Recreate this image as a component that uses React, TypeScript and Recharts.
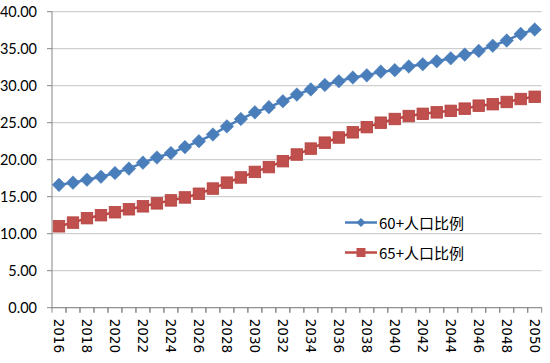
import React from 'react';
import { LineChart, Line, XAxis, YAxis, CartesianGrid } from 'recharts';

const years = [
  '2016', '2017', '2018', '2019', '2020', '2021', '2022', '2023', '2024', '2025',
  '2026', '2027', '2028', '2029', '2030', '2031', '2032', '2033', '2034', '2035',
  '2036', '2037', '2038', '2039', '2040', '2041', '2042', '2043', '2044', '2045',
  '2046', '2047', '2048', '2049', '2050',
];

const seriesNames = ['60+人口比例', '65+人口比例'];

const ratio60 = [
  16.6, 16.9, 17.3, 17.7, 18.2, 18.8, 19.6, 20.3, 20.9, 21.7,
  22.5, 23.4, 24.5, 25.5, 26.4, 27.1, 27.9, 28.8, 29.5, 30.1,
  30.6, 31.1, 31.4, 31.9, 32.1, 32.6, 32.9, 33.3, 33.7, 34.2,
  34.7, 35.4, 36.1, 37.0, 37.6,
];

const ratio65 = [
  11.0, 11.5, 12.1, 12.5, 12.9, 13.3, 13.7, 14.1, 14.5, 14.9,
  15.4, 16.1, 16.9, 17.6, 18.35, 19.0, 19.8, 20.7, 21.5, 22.3,
  23.0, 23.7, 24.4, 25.0, 25.5, 25.9, 26.2, 26.4, 26.6, 26.9,
  27.3, 27.5, 27.8, 28.2, 28.5,
];

const yTicks = [0, 5, 10, 15, 20, 25, 30, 35, 40];

const data = years.map((year, i) => ({ year, r60: ratio60[i], r65: ratio65[i] }));

const BLUE = '#4A7EBB';
const RED = '#BE4B48';
const AXIS = '#868686';
const GRID = '#C4C4C4';

const Diamond = (props: any) => {
  const { cx, cy } = props;
  if (cx == null || cy == null) return null;
  const r = 6.8;
  return (
    <polygon
      points={`${cx},${cy - r} ${cx + r},${cy} ${cx},${cy + r} ${cx - r},${cy}`}
      fill={BLUE}
      stroke={BLUE}
      strokeWidth={0.5}
    />
  );
};

const Square = (props: any) => {
  const { cx, cy } = props;
  if (cx == null || cy == null) return null;
  const s = 11.5;
  return (
    <rect x={cx - s / 2} y={cy - s / 2} width={s} height={s} fill="#C0504D" stroke="#B3413E" strokeWidth={0.8} />
  );
};

const TICK_SIZE = 5;
const TICK_MARGIN = 0;

const XTick = (props: any) => {
  const { x, y, payload, index } = props;
  const y0 = y - TICK_SIZE - TICK_MARGIN;
  const half = 7;
  const ty = y0 + 11;
  return (
    <g>
      <line x1={x - half} x2={x - half} y1={y0} y2={y0 + 5} stroke={AXIS} strokeWidth={1} />
      <line x1={x + half} x2={x + half} y1={y0} y2={y0 + 5} stroke={AXIS} strokeWidth={1} />
      {index % 2 === 0 ? (
        <text
          x={x}
          y={ty}
          transform={`rotate(90, ${x}, ${ty})`}
          textAnchor="start"
          dominantBaseline="central"
          fontFamily="DejaVu Sans"
          fontSize={13.5}
          fill="#000"
        >
          {payload.value}
        </text>
      ) : null}
    </g>
  );
};

export default function App() {
  return (
    <div style={{ position: 'absolute', left: 0, top: 0, width: 550, height: 363, background: '#fff' }}>
      <LineChart
        width={550}
        height={363}
        data={data}
        margin={{ top: 11.7, right: 8.3, left: 0, bottom: 5.3 }}
      >
        <CartesianGrid vertical={false} stroke={GRID} strokeWidth={1} />
        <XAxis
          dataKey="year"
          scale="band"
          interval={0}
          height={50}
          tickLine={false}
          tickSize={TICK_SIZE}
          tickMargin={TICK_MARGIN}
          axisLine={{ stroke: AXIS, strokeWidth: 1 }}
          tick={<XTick />}
        />
        <YAxis
          domain={[0, 40]}
          ticks={yTicks}
          width={52}
          tickSize={5}
          tickMargin={10}
          tickFormatter={(v: number) => v.toFixed(2)}
          axisLine={{ stroke: AXIS, strokeWidth: 1 }}
          tickLine={{ stroke: AXIS }}
          tick={{ fontFamily: 'Lato', fontSize: 14.5, fill: '#000' }}
          allowDataOverflow
        />
        <Line
          dataKey="r60"
          name={seriesNames[0]}
          stroke={BLUE}
          strokeWidth={2.5}
          dot={<Diamond />}
          isAnimationActive={false}
        />
        <Line
          dataKey="r65"
          name={seriesNames[1]}
          stroke={RED}
          strokeWidth={2.5}
          dot={<Square />}
          isAnimationActive={false}
        />
      </LineChart>
      <div style={{ position: 'absolute', left: 344, top: 211, fontFamily: '"Noto Sans CJK SC", sans-serif', fontSize: 15, color: '#000', lineHeight: '23px' }}>
        <div style={{ display: 'flex', alignItems: 'center', height: 23, marginBottom: 7 }}>
          <svg width={34} height={23}>
            <line x1={1} x2={33} y1={11.5} y2={11.5} stroke={BLUE} strokeWidth={2.5} />
            <polygon points="17,7 21.5,11.5 17,16 12.5,11.5" fill={BLUE} />
          </svg>
          <span style={{ marginLeft: 1 }}>{seriesNames[0]}</span>
        </div>
        <div style={{ display: 'flex', alignItems: 'center', height: 23 }}>
          <svg width={34} height={23}>
            <line x1={1} x2={33} y1={11.5} y2={11.5} stroke={RED} strokeWidth={2.5} />
            <rect x={12.5} y={7} width={9} height={9} fill="#C0504D" />
          </svg>
          <span style={{ marginLeft: 1 }}>{seriesNames[1]}</span>
        </div>
      </div>
    </div>
  );
}
